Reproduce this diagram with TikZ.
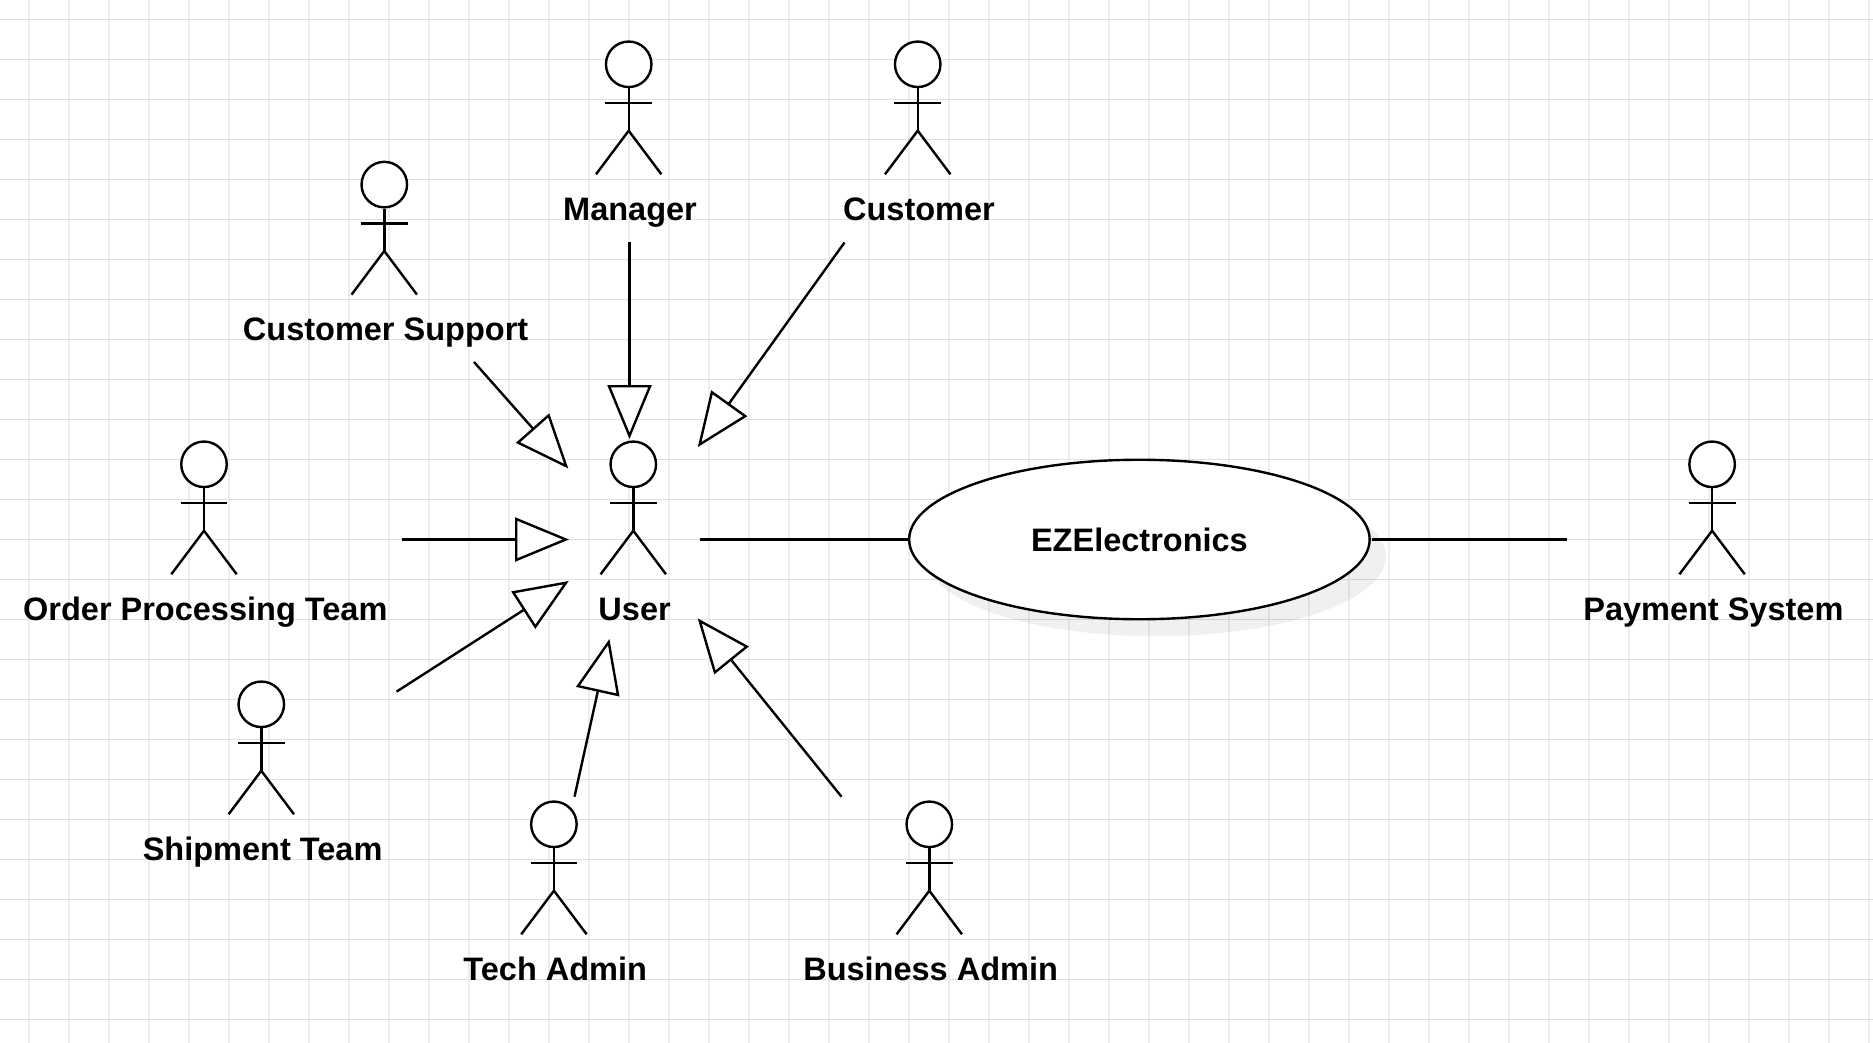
\documentclass[tikz,border=0pt]{standalone}
\usepackage{fontspec}
\setmainfont{Liberation Sans}
\usetikzlibrary{arrows.meta,shapes.geometric}
\definecolor{gridv}{HTML}{EEEEEE}
\definecolor{gridh}{HTML}{E0E0E0}
\definecolor{ink}{HTML}{000000}
\tikzset{
  gridvline/.style={draw=gridv,line width=1.5pt},
  gridhline/.style={draw=gridh,line width=1.1pt},
  limb/.style={draw=ink,line width=2.4pt},
  headnode/.style={circle,draw=ink,line width=2.4pt,fill=white,minimum size=45.5pt,inner sep=0pt},
  actorlabel/.style={anchor=base,inner sep=0pt,text=black,font=\fontsize{32.5}{36}\selectfont\bfseries},
  plainlink/.style={draw=ink,line width=2.4pt},
  genlink/.style={draw=ink,line width=2.4pt,-{Triangle[open,fill=white,length=54pt,width=44pt]}},
  usecase/.style={ellipse,draw=ink,line width=2.4pt,fill=white,minimum width=460.5pt,minimum height=159.5pt,inner sep=0pt,font=\fontsize{32.5}{36}\selectfont\bfseries,text=black},
  usecaseshadow/.style={ellipse,fill=black,fill opacity=0.06,minimum width=460.5pt,minimum height=159.5pt,inner sep=0pt},
}
\newcommand{\actorfig}[4]{%
  \node[headnode] (#1) at (#2,#3) {};
  \draw[limb] (#1.south) -- ++(0,44);
  \draw[limb] (#2-23.4,#3+38.7) -- (#2+23.4,#3+38.7);
  \draw[limb,line join=round] (#2-32.7,#3+110) -- (#2,#3+66.4) -- (#2+32.7,#3+110);
  \node[actorlabel] (#1-label) at (#2+1.3,#3+156) {#4};
}
\begin{document}
\begin{tikzpicture}[x=1pt,y=-1pt]
\useasboundingbox (0,0) rectangle (1873,1043);
\fill[white] (0,0) rectangle (1873,1043);
% grid
\foreach \k in {0,...,46} {\draw[gridvline] ({29+40*\k},0) -- ({29+40*\k},1043);}
\foreach \k in {0,...,25} {\draw[gridhline] (0,{19.3+40*\k}) -- (1873,{19.3+40*\k});}
% use case
\node[usecaseshadow] (ezshadow) at (1155.7,556.5) {};
\node[usecase] (ez) at (1139.4,539.5) {\raisebox{0.5pt}{EZElectronics}};
% actors
\actorfig{manager}{628.7}{64.3}{Manager}
\actorfig{customer}{917.7}{64.3}{Customer}
\actorfig{support}{384.3}{184.6}{Customer Support}
\actorfig{order}{204}{464.3}{Order Processing Team}
\actorfig{user}{633.3}{464.3}{User}
\actorfig{payment}{1712.1}{464.3}{Payment System}
\actorfig{shipment}{261.3}{704.3}{Shipment Team}
\actorfig{tech}{553.9}{824.3}{Tech Admin}
\actorfig{business}{929.3}{824.3}{Business Admin}
% connector ends
\coordinate (fromManager) at (629.5,242);
\coordinate (toManager) at (629.5,439);
\coordinate (fromCustomer) at (844.5,242.5);
\coordinate (toCustomer) at (697.8,447.1);
\coordinate (fromSupport) at (474,362);
\coordinate (toSupport) at (568.3,468.5);
\coordinate (fromOrder) at (401.5,539.5);
\coordinate (toOrder) at (569,539.5);
\coordinate (fromShipment) at (396.6,691.6);
\coordinate (toShipment) at (568.7,581);
\coordinate (fromTech) at (574.5,796.7);
\coordinate (toTech) at (609.4,639);
\coordinate (fromBusiness) at (841.5,796.7);
\coordinate (toBusiness) at (697.7,618.4);
\coordinate (userRight) at (699.5,539.5);
\coordinate (payLeft) at (1567,539.5);
% connectors
\draw[genlink] (fromManager) -- (toManager);
\draw[genlink] (fromCustomer) -- (toCustomer);
\draw[genlink] (fromSupport) -- (toSupport);
\draw[genlink] (fromOrder) -- (toOrder);
\draw[genlink] (fromShipment) -- (toShipment);
\draw[genlink] (fromTech) -- (toTech);
\draw[genlink] (fromBusiness) -- (toBusiness);
\draw[plainlink] (userRight) -- (ez.west);
\draw[plainlink] ([xshift=1.5pt]ez.east) -- (payLeft);
\end{tikzpicture}
\end{document}
